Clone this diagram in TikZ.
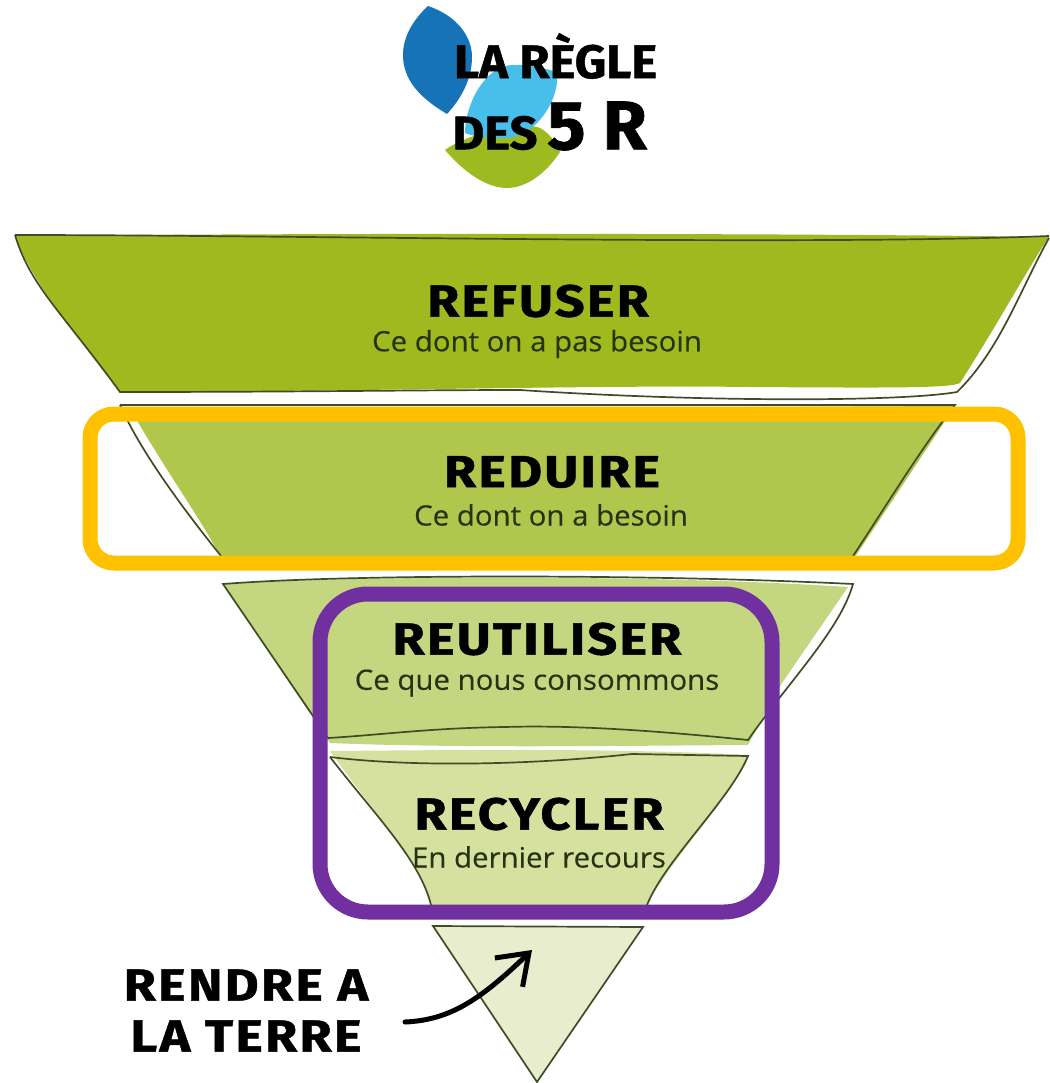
\documentclass[tikz,border=0pt]{standalone}
\usepackage{fontspec}
\usepackage{xcolor}
\usetikzlibrary{arrows.meta,calc,positioning}
\setmainfont[FakeStretch=1.05,FakeBold=0.25]{Open Sans}
\newfontfamily\headfont[BoldFeatures={FakeBold=1.0,FakeStretch=1.16,LetterSpace=5}]{Fira Sans}
\newfontfamily\logofont[BoldFeatures={FakeBold=1.0,FakeStretch=1.04}]{Fira Sans}
\definecolor{leafDark}{RGB}{22,115,184}
\definecolor{leafSky}{RGB}{72,190,234}
\definecolor{leafGreen}{RGB}{157,187,33}
\definecolor{tierA}{RGB}{160,185,30}
\definecolor{tierB}{RGB}{177,198,76}
\definecolor{tierC}{RGB}{197,214,128}
\definecolor{tierD}{RGB}{214,225,160}
\definecolor{tierE}{RGB}{231,237,205}
\definecolor{rimLine}{RGB}{62,76,40}
\definecolor{subInk}{RGB}{38,50,16}
\definecolor{frameGold}{RGB}{255,192,0}
\definecolor{framePurple}{RGB}{112,48,160}
\tikzset{
  rim/.style={draw=rimLine, line width=1.7pt},
  frameGoldBox/.style={draw=frameGold, line width=15pt, rounded corners=24pt},
  framePurpleBox/.style={draw=framePurple, line width=15pt, rounded corners=48pt},
  headLabel/.style={font=\headfont\bfseries\fontsize{45}{47}\selectfont, inner sep=0pt},
  subLabel/.style={font=\fontsize{28}{30}\selectfont, text=subInk, inner sep=0pt},
  logoSmall/.style={font=\logofont\bfseries\fontsize{47}{50}\selectfont, inner sep=0pt},
  logoBig/.style={font=\logofont\bfseries\fontsize{69}{72}\selectfont, inner sep=0pt},
  handArrow/.style={-{Straight Barb[length=28pt,width=40pt]}, line width=5pt, line cap=round}
}
\begin{document}
\begin{tikzpicture}[x=1pt,y=-1pt]
  \useasboundingbox (0,0) rectangle (1049,1083);
  % logo leaves
  \fill[leafGreen] (445,150) .. controls (465,135) and (520,120) .. (540,128)
    .. controls (548,132) and (556,142) .. (560,152)
    .. controls (545,175) and (525,188) .. (507,188)
    .. controls (485,188) and (462,170) .. (445,150) -- cycle;
  \fill[leafSky] (465,133) .. controls (465,105) and (485,65) .. (513,65)
    .. controls (530,65) and (548,68) .. (557,73)
    .. controls (560,100) and (535,138) .. (505,138)
    .. controls (490,139) and (475,137) .. (465,133) -- cycle;
  \fill[leafDark] (428,6) .. controls (455,15) and (472,35) .. (472,57)
    .. controls (472,80) and (460,100) .. (447,114)
    .. controls (420,98) and (403,80) .. (403,55)
    .. controls (403,35) and (415,18) .. (428,6) -- cycle;
  % logo text
  \node[logoSmall] (logoTop) at (555.5,56) {LA RÈGLE};
  \node[logoSmall] (logoDes) at (495,133) {DES};
  \node[logoBig] (logoFive) at (597,126) {5 R};
  % refuser
  \fill[tierA] (15,236) .. controls (300,233) and (800,233) .. (1049,237)
    .. controls (1030,265) and (1000,320) .. (960,383)
    .. controls (950,388) and (900,388) .. (750,387)
    .. controls (600,385) and (400,391) .. (120,392)
    .. controls (90,350) and (35,290) .. (15,236) -- cycle;
  \draw[rim] (15,235) .. controls (300,235) and (800,246) .. (1049,236);
  \draw[rim] (15,235) .. controls (30,285) and (60,310) .. (120,392)
    .. controls (300,392) and (420,390) .. (520,390)
    .. controls (700,402) and (900,402) .. (957,392)
    .. controls (1000,350) and (1020,290) .. (1049,238);
  % reduire
  \fill[tierB] (131,410) -- (955,406) -- (853,560) -- (222,560)
    .. controls (205,525) and (165,470) .. (131,410) -- cycle;
  \draw[rim] (120,405) -- (955,405) .. controls (920,450) and (890,500) .. (853,556);
  \draw[rim] (120,405) .. controls (140,450) and (180,505) .. (221,556);
  % reutiliser
  \fill[tierC] (223,584) .. controls (350,576) and (650,574) .. (848,587)
    -- (782,683) -- (748,745)
    .. controls (600,746) and (450,748) .. (330,743)
    -- cycle;
  \draw[rim] (223,584) .. controls (350,574) and (650,574) .. (853,584)
    .. controls (840,630) and (790,680) .. (748,740)
    .. controls (650,730) and (570,725) .. (505,727)
    .. controls (430,728) and (380,735) .. (328,738) -- cycle;
  % recycler
  \fill[tierD] (330,751) .. controls (450,750) and (620,748) .. (748,755)
    .. controls (730,800) and (670,860) .. (647,905) -- (431,905)
    .. controls (420,860) and (375,815) .. (330,751) -- cycle;
  \draw[rim] (330,757) .. controls (420,768) and (540,764) .. (632,754)
    -- (748,756) .. controls (730,800) and (665,860) .. (647,905);
  \draw[rim] (330,757) .. controls (375,815) and (420,860) .. (431,905);
  % rendre a la terre
  \fill[tierE] (433,926) -- (643,927) -- (537,1082) -- cycle;
  \draw[rim] (433,926) -- (643,927) -- (537,1082) -- cycle;
  % frames
  \draw[frameGoldBox] (90,414) rectangle (1018,563);
  \draw[framePurpleBox] (320,594) rectangle (772,912);
  % labels
  \node[headLabel] (refuserHead) at (538,301) {REFUSER};
  \node[subLabel] (refuserSub) at (537,344) {Ce dont on a pas besoin};
  \node[headLabel] (reduireHead) at (552,472) {REDUIRE};
  \node[subLabel] (reduireSub) at (551,515) {Ce dont on a besoin};
  \node[headLabel] (reutiliserHead) at (537,639) {REUTILISER};
  \node[subLabel] (reutiliserSub) at (537,683) {Ce que nous consommons};
  \node[headLabel] (recyclerHead) at (539,814) {RECYCLER};
  \node[subLabel] (recyclerSub) at (539,857) {En dernier recours};
  \node[headLabel] (rendreHead) at (246,985) {RENDRE A};
  \node[headLabel] (terreHead) at (246,1036) {LA TERRE};
  % arrow
  \coordinate (arrowStart) at (405,1022);
  \coordinate (arrowTip) at (532,950);
  \draw[handArrow] (arrowStart) .. controls (450,1020) and (480,1000) .. (arrowTip);
\end{tikzpicture}
\end{document}
